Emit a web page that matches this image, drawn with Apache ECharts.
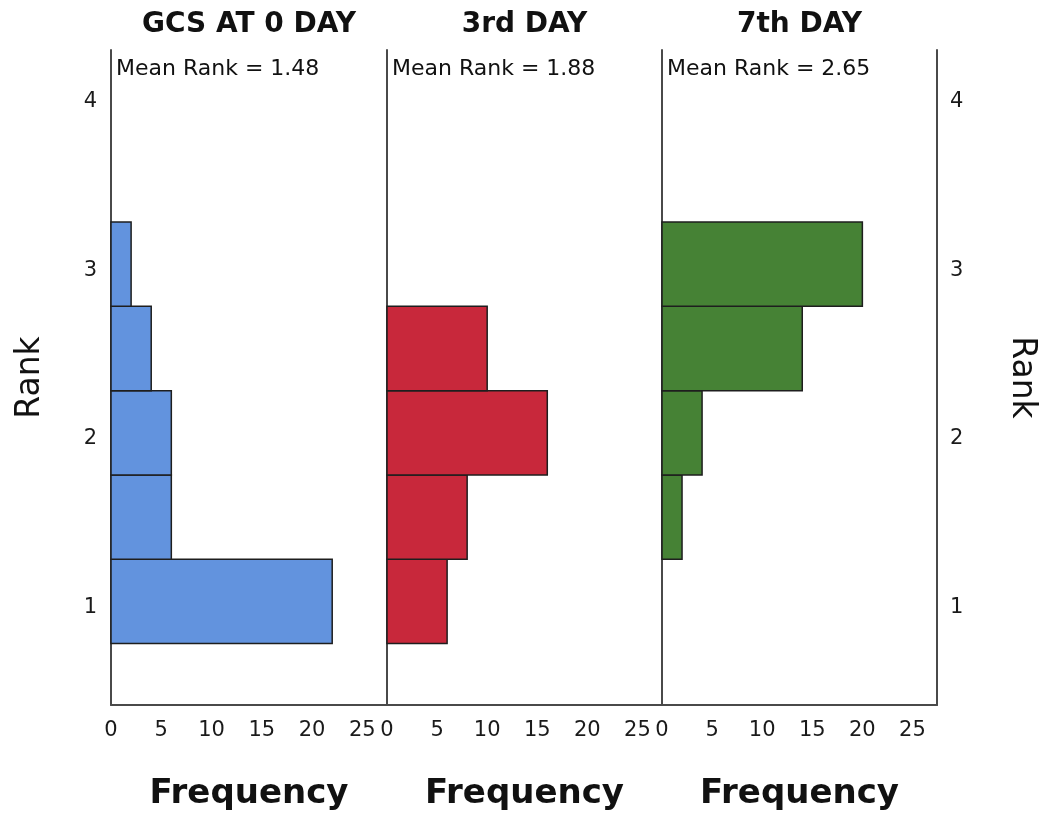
<!DOCTYPE html>
<html>
<head>
<meta charset="utf-8">
<script src="https://cdn.jsdelivr.net/npm/echarts@6/dist/echarts.min.js"></script>
<style>
  html, body { margin: 0; padding: 0; background: #fff; }
  #chart { width: 1045px; height: 817px; }
</style>
</head>
<body>
<div id="chart"></div>
<script>
// rank bins (each 0.5 wide) and frequencies for each day
var binLow = [0.75, 1.25, 1.75, 2.25, 2.75];
var binHigh = [1.25, 1.75, 2.25, 2.75, 3.25];
var freqDay0 = [22, 6, 6, 4, 2];
var freqDay3 = [6, 8, 16, 10, 0];
var freqDay7 = [0, 2, 4, 14, 20];
var panelTitles = ['GCS AT 0 DAY', '3rd DAY', '7th DAY'];
var meanRanks = ['1.48', '1.88', '2.65'];
var rankTicks = [1, 2, 3, 4];
var freqTicks = [0, 5, 10, 15, 20, 25];

var colors = ['#6293de', '#c8283b', '#468235'];
var allFreq = [freqDay0, freqDay3, freqDay7];
var panelLeft = [111, 387, 662];
var panelWidth = [276, 275, 275];

var myChart = echarts.init(document.getElementById('chart'));

function makeData(freq) {
    var out = [];
    for (var i = 0; i < freq.length; i++) {
        out.push([binLow[i], binHigh[i], freq[i]]);
    }
    return out;
}

function renderBin(params, api) {
    var n = api.value(2);
    if (!n) return null;
    var p0 = api.coord([0, api.value(1)]);
    var p1 = api.coord([n, api.value(0)]);
    return {
        type: 'rect',
        shape: {x: p0[0], y: p0[1], width: p1[0] - p0[0], height: p1[1] - p0[1]},
        style: {fill: colors[params.seriesIndex], stroke: '#1e1e1e', lineWidth: 1.5}
    };
}

var axisLine = {show: true, lineStyle: {color: '#4a4a4a', width: 2}};
var labelFont = {fontFamily: 'DejaVu Sans', fontSize: 21, color: '#1a1a1a'};

var grids = [], xAxes = [], yAxes = [], series = [], titles = [];
for (var k = 0; k < 3; k++) {
    grids.push({left: panelLeft[k], width: panelWidth[k], top: 50, bottom: 112});
    xAxes.push({
        type: 'value', gridIndex: k, min: 0, max: 27.45,
        name: 'Frequency', nameLocation: 'middle', nameGap: 72,
        nameTextStyle: {fontFamily: 'DejaVu Sans', fontWeight: 'bold', fontSize: 34, color: '#111'},
        axisLine: axisLine, axisTick: {show: false}, splitLine: {show: false},
        axisLabel: Object.assign({customValues: freqTicks, margin: 15}, labelFont)
    });
    yAxes.push({
        type: 'value', gridIndex: k, min: 0.386, max: 4.27,
        name: k === 0 ? 'Rank' : '', nameLocation: 'middle', nameGap: 64,
        nameTextStyle: {fontFamily: 'DejaVu Sans', fontSize: 33, color: '#111'},
        axisLine: axisLine, axisTick: {show: false}, splitLine: {show: false},
        axisLabel: Object.assign({show: k === 0, customValues: rankTicks, margin: 14, verticalAlign: 'top', lineHeight: 12}, labelFont)
    });
    series.push({
        type: 'custom', xAxisIndex: k, yAxisIndex: k,
        renderItem: renderBin,
        encode: {x: 2, y: [0, 1]},
        data: makeData(allFreq[k])
    });
    titles.push({
        text: panelTitles[k], left: panelLeft[k] + panelWidth[k] / 2, top: 11, textAlign: 'center', padding: 0,
        textStyle: {fontFamily: 'DejaVu Sans', fontWeight: 'bold', fontSize: 28, color: '#111'}
    });
    titles.push({
        text: 'Mean Rank = ' + meanRanks[k], left: panelLeft[k] + 5, top: 58, padding: 0,
        textStyle: {fontFamily: 'DejaVu Sans', fontWeight: 'normal', fontSize: 22, color: '#111'}
    });
}
// right-hand rank axis on the last panel
yAxes.push({
    type: 'value', gridIndex: 2, position: 'right', min: 0.386, max: 4.27,
    name: 'Rank', nameLocation: 'middle', nameGap: 68, nameRotate: -90,
    nameTextStyle: {fontFamily: 'DejaVu Sans', fontSize: 33, color: '#111'},
    axisLine: axisLine, axisTick: {show: false}, splitLine: {show: false},
    axisLabel: Object.assign({customValues: rankTicks, margin: 13, verticalAlign: 'top', lineHeight: 12}, labelFont)
});

option = {
    backgroundColor: '#fff',
    animation: false,
    title: titles,
    grid: grids,
    xAxis: xAxes,
    yAxis: yAxes,
    series: series
};
myChart.setOption(option);
</script>
</body>
</html>
